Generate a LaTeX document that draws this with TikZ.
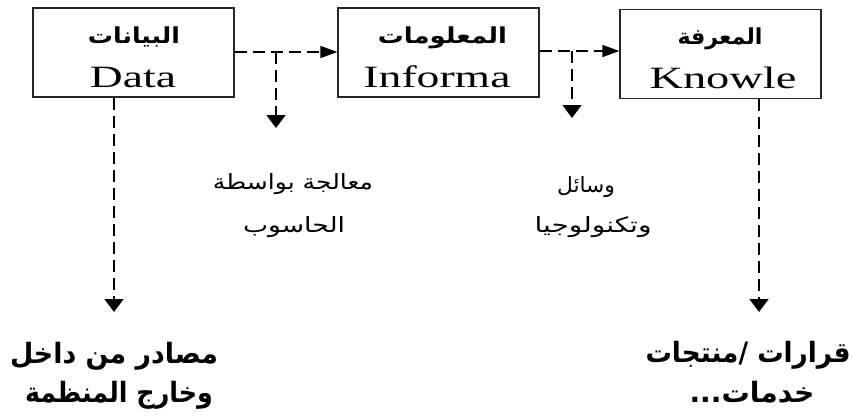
\documentclass[tikz,border=0pt]{standalone}
\usepackage{fontspec}
\usepackage{graphicx}
\usetikzlibrary{arrows.meta}
\TeXXeTstate=1
\newfontfamily\arabfont[Script=Arabic]{DejaVu Sans}
\newfontfamily\latfont{Liberation Serif}
\newcommand\fitw[2]{\resizebox{#1}{\height}{#2}}
\newcommand\artitle[1]{\arabfont\bfseries\fontsize{22}{24}\selectfont\beginR #1\endR}
\newcommand\armid[1]{\arabfont\fontsize{21}{24}\selectfont\beginR #1\endR}
\newcommand\arbot[1]{\arabfont\bfseries\fontsize{28}{30}\selectfont\beginR #1\endR}
\newcommand\lattext[1]{\latfont\fontsize{31}{34}\selectfont #1}
\tikzset{
  box/.style={draw=black!85, line width=1.3pt, minimum width=201pt, minimum height=89pt, inner sep=0pt},
  txt/.style={anchor=base, inner sep=0pt, outer sep=0pt},
  dline/.style={line width=1.5pt, dash pattern=on 12pt off 6pt},
  harrow/.style={dline, -{Triangle[length=17pt,width=12pt]}},
  varrow/.style={dline, -{Triangle[length=13pt,width=19pt]}},
}
\begin{document}
\begin{tikzpicture}[x=1pt,y=-1pt]
\useasboundingbox (0,0) rectangle (853,416);
% boxes
\node[box] (b1) at (133.5,52.5) {};
\node[box] (b2) at (438.5,52.5) {};
\node[box] (b3) at (720.5,54) {};
% box texts
\node[txt] (t1a) at (134,43) {\fitw{92pt}{\artitle{البيانات}}};
\node[txt] (t1b) at (133,87) {\fitw{86pt}{\lattext{Data}}};
\node[txt] (t2a) at (442.5,43) {\fitw{129pt}{\artitle{المعلومات}}};
\node[txt] (t2b) at (437,87) {\fitw{147pt}{\lattext{Informa}}};
\node[txt] (t3a) at (720,44) {\fitw{85pt}{\artitle{المعرفة}}};
\node[txt] (t3b) at (723,88) {\fitw{147pt}{\lattext{Knowle}}};
% middle texts
\node[txt] (m1) at (293,189) {\fitw{160pt}{\armid{معالجة بواسطة}}};
\node[txt] (m2) at (294,232) {\fitw{102pt}{\armid{الحاسوب}}};
\node[txt] (m3) at (586,192) {\fitw{58pt}{\armid{وسائل}}};
\node[txt] (m4) at (593,232) {\fitw{117pt}{\armid{وتكنولوجيا}}};
% bottom texts
\node[txt] (l1) at (114,363) {\fitw{208pt}{\arbot{مصادر من داخل}}};
\node[txt] (l2) at (119,402) {\fitw{188pt}{\arbot{وخارج المنظمة}}};
\node[txt] (r1) at (748,362) {\fitw{205pt}{\arbot{قرارات /منتجات}}};
\node[txt] (r2) at (752,402) {\fitw{125pt}{\arbot{خدمات...}}};
% junctions and tips
\coordinate (j1) at (276,52);
\coordinate (p1) at (276,128);
\coordinate (j2) at (572,51);
\coordinate (p2) at (572,118);
\coordinate (d1) at (114,312);
\coordinate (d2) at (759,312);
% connectors
\draw[harrow] (b1.east |- j1) -- (b2.west |- j1);
\draw[varrow] (j1) -- (p1);
\draw[harrow] (b2.east |- j2) -- (b3.west |- j2);
\draw[varrow] (j2) -- (p2);
\draw[varrow] (b1.south -| d1) -- (d1);
\draw[varrow] (b3.south -| d2) -- (d2);
\end{tikzpicture}
\end{document}
